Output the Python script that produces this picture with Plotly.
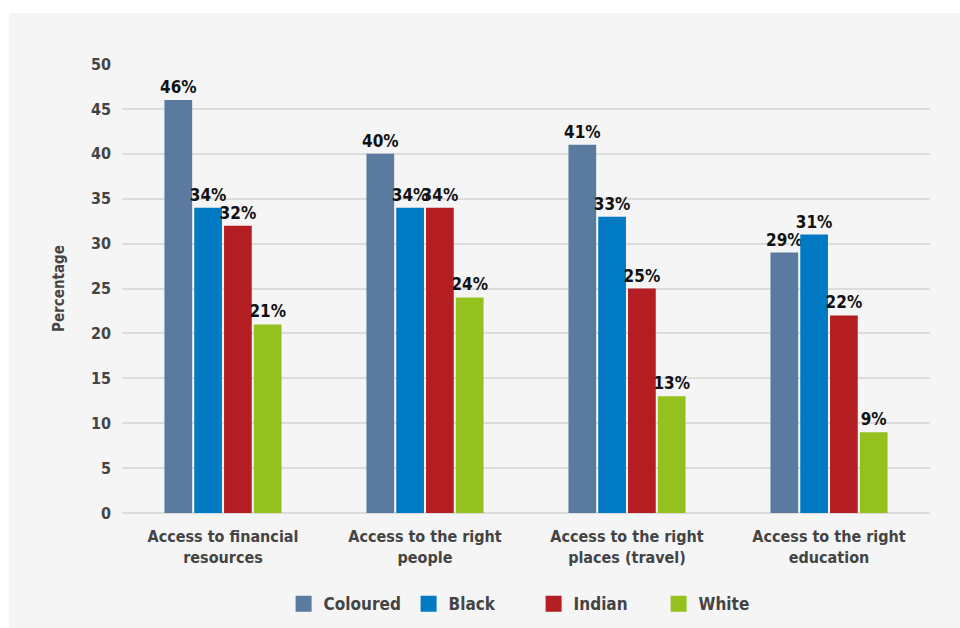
import plotly.graph_objects as go

categories = ["Access to financial<br>resources", "Access to the right<br>people",
              "Access to the right<br>places (travel)", "Access to the right<br>education"]
series_names = ["Coloured", "Black", "Indian", "White"]
coloured = [46, 40, 41, 29]
black = [34, 34, 33, 31]
indian = [32, 34, 25, 22]
white = [21, 24, 13, 9]
series_values = [coloured, black, indian, white]
colors = ["#5a7aa0", "#007ac2", "#b41e23", "#95c11f"]
y_ticks = list(range(0, 55, 5))

FONT = "Liberation Sans Narrow, DejaVu Sans Condensed, Arial Narrow, sans-serif"

fig = go.Figure()
for name, vals, col in zip(series_names, series_values, colors):
    fig.add_trace(go.Bar(
        x=categories, y=vals, name=name, marker_color=col, marker_line_width=0,
        text=[f"{v}%" for v in vals], textposition="outside", constraintext="none",
        cliponaxis=False, showlegend=False,
        textfont=dict(family=FONT, size=17, color="#111111", weight="bold"),
        hoverinfo="skip"))
for name, col in zip(series_names, colors):
    fig.add_trace(go.Scatter(
        x=[None], y=[None], mode="markers", name=name,
        marker=dict(symbol="square", size=16, color=col)))

fig.add_shape(type="rect", xref="paper", yref="paper",
              x0=-0.1399, x1=1.0371, y0=-0.2561, y1=1.1136,
              fillcolor="#f5f5f5", line_width=0, layer="below")

fig.update_layout(
    width=960, height=628,
    margin=dict(l=122, r=30, t=64, b=115),
    paper_bgcolor="white", plot_bgcolor="rgba(0,0,0,0)",
    barmode="group", bargap=0.41, bargroupgap=0.07,
    font=dict(family=FONT, color="#444444"),
    legend=dict(orientation="h", x=0.2, xanchor="left",
                yref="container", y=0.038, yanchor="middle",
                font=dict(family=FONT, size=17, color="#444444", weight="bold"),
                itemwidth=30, entrywidth=80, entrywidthmode="pixels",
                bgcolor="rgba(0,0,0,0)"),
)
fig.update_yaxes(range=[0, 50], tickvals=y_ticks, showgrid=True, gridcolor="#dcdcdc",
                 gridwidth=2, zeroline=True, zerolinecolor="#dcdcdc", zerolinewidth=2,
                 showline=False, ticklabelstandoff=10, automargin=False,
                 tickfont=dict(family=FONT, size=16, color="#444444", weight="bold"),
                 title=dict(text="Percentage", standoff=22,
                            font=dict(family=FONT, size=15, color="#444444", weight="bold")))
fig.update_xaxes(showgrid=False, showline=False, ticklabelstandoff=12, automargin=False,
                 tickfont=dict(family=FONT, size=16, color="#444444", weight="bold"))

fig.write_html("out.html")
